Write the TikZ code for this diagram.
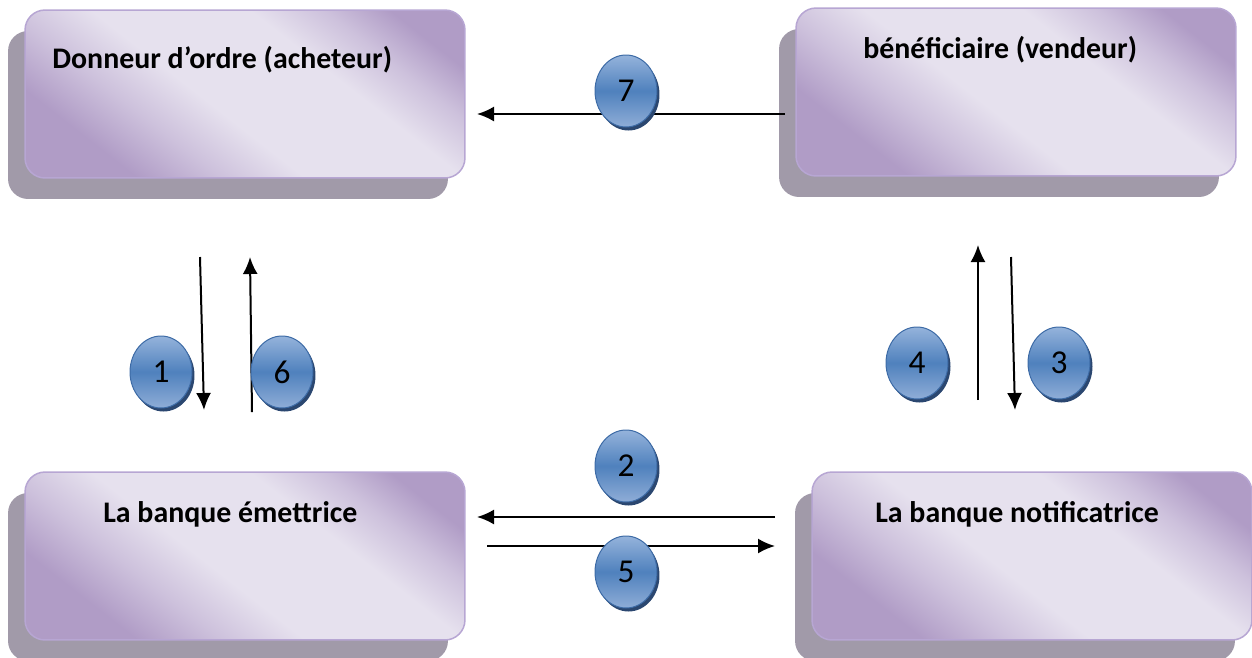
\documentclass[tikz,border=0pt]{standalone}
\usepackage{fontspec}
\setmainfont{Carlito}
\usetikzlibrary{arrows.meta,shapes.geometric,shadows}

\definecolor{boxedge}{HTML}{B7A6D3}
\definecolor{boxdark}{HTML}{B09CC6}
\definecolor{boxmid}{HTML}{CDC1DC}
\definecolor{boxlight}{HTML}{E6E1EE}
\definecolor{boxshadow}{HTML}{A19AA9}
\definecolor{ovaltop}{HTML}{95B3DB}
\definecolor{ovalmid}{HTML}{4F81BD}
\definecolor{ovalbot}{HTML}{8FADD7}
\definecolor{ovaledge}{HTML}{3D6BA6}
\definecolor{ovalshadow}{HTML}{2B4770}

% light band across the middle, purple towards two corners
\pgfdeclareverticalshading{partyshade}{100bp}{color(0bp)=(boxdark); color(27bp)=(boxdark);
  color(36bp)=(boxmid); color(45bp)=(boxlight); color(62bp)=(boxlight);
  color(70bp)=(boxmid); color(77bp)=(boxdark); color(100bp)=(boxdark)}

\begin{document}
\begin{tikzpicture}[x=0.02cm, y=-0.02cm, >={Latex[length=0.34cm,width=0.3cm]},
  party/.style={draw=boxedge, line width=0.03cm, rounded corners=0.4cm,
    minimum width=8.8cm, minimum height=3.36cm, inner sep=0pt,
    shading=partyshade, shading angle=-38,
    drop shadow={shadow xshift=-0.34cm, shadow yshift=-0.42cm, fill=boxshadow, opacity=1}},
  partytext/.style={anchor=base west, inner sep=0pt, font=\fontsize{17}{20}\selectfont\bfseries},
  num/.style={ellipse, draw=ovaledge, line width=0.02cm, minimum width=1.24cm,
    minimum height=1.44cm, inner sep=0pt,
    top color=ovaltop, bottom color=ovalbot, middle color=ovalmid,
    drop shadow={shadow xshift=0.05cm, shadow yshift=-0.07cm, fill=ovalshadow, opacity=1},
    font=\fontsize{19}{22}\selectfont},
  flow/.style={->, line width=0.04cm}]
  \useasboundingbox (0,0) rectangle (1252,657);

  % the four parties
  \node[party] (donneur) at (245,94) {};
  \node[party] (benef) at (1016,92) {};
  \node[party] (emettrice) at (245,556) {};
  \node[party] (notif) at (1032,556) {};

  \node[partytext] (donneurtxt) at (52,68) {Donneur d’ordre (acheteur)};
  \node[partytext] (beneftxt) at (863,58) {bénéficiaire (vendeur)};
  \node[partytext] (emettricetxt) at (103,522) {La banque émettrice};
  \node[partytext] (notiftxt) at (875,522) {La banque notificatrice};

  % arrow ends
  \coordinate (a7s) at (785,114);  \coordinate (a7e) at (477,114);
  \coordinate (a1s) at (200,257);  \coordinate (a1e) at (204,410);
  \coordinate (a6s) at (252,412);  \coordinate (a6e) at (250,257);
  \coordinate (a4s) at (978,400);  \coordinate (a4e) at (978,245);
  \coordinate (a3s) at (1011,257); \coordinate (a3e) at (1015,410);
  \coordinate (a2s) at (775,517);  \coordinate (a2e) at (477,517);
  \coordinate (a5s) at (487,546);  \coordinate (a5e) at (775,546);

  \draw[flow] (a7s) -- (a7e);
  \draw[flow] (a1s) -- (a1e);
  \draw[flow] (a6s) -- (a6e);
  \draw[flow] (a4s) -- (a4e);
  \draw[flow] (a3s) -- (a3e);
  \draw[flow] (a2s) -- (a2e);
  \draw[flow] (a5s) -- (a5e);

  % step numbers
  \node[num] (n7) at (626,91) {7};
  \node[num] (n1) at (161,372) {1};
  \node[num] (n6) at (282,372) {6};
  \node[num] (n4) at (917,363) {4};
  \node[num] (n3) at (1059,363) {3};
  \node[num] (n2) at (626,466) {2};
  \node[num] (n5) at (626,572) {5};
\end{tikzpicture}
\end{document}
